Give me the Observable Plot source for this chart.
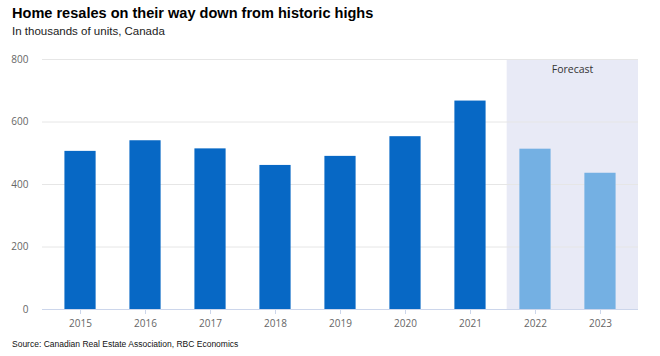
<!DOCTYPE html>
<html>
<head>
<meta charset="utf-8">
<script src="https://cdn.jsdelivr.net/npm/d3@7"></script>
<script src="https://cdn.jsdelivr.net/npm/@observablehq/plot@0.6"></script>
<style>
  html, body { margin: 0; padding: 0; background: #fff; }
  #wrap { width: 660px; height: 356px; position: relative; overflow: hidden; }
  #title { position: absolute; left: 12px; top: 5px; font: bold 14.55px "Liberation Sans", Arial, sans-serif; color: #000; white-space: nowrap; }
  #subtitle { position: absolute; left: 12px; top: 25px; font: 11.5px "Liberation Sans", Arial, sans-serif; color: #222; white-space: nowrap; }
  #chart { position: absolute; left: 0; top: 44px; }
  #source { position: absolute; left: 12px; top: 339px; font: 8.5px "Liberation Sans", Arial, sans-serif; color: #111; white-space: nowrap; }
  #chart svg text { font-family: "Open Sans", "DejaVu Sans", sans-serif; }
</style>
</head>
<body>
<div id="wrap">
  <div id="title">Home resales on their way down from historic highs</div>
  <div id="subtitle">In thousands of units, Canada</div>
  <div id="chart"></div>
  <div id="source">Source: Canadian Real Estate Association, RBC Economics</div>
</div>
<script>
const years = ["2015","2016","2017","2018","2019","2020","2021","2022","2023"];
const resales = [506, 540, 514, 461, 490, 553, 667, 513, 436];
const isForecast = [false, false, false, false, false, false, false, true, true];
const yTicks = [0, 200, 400, 600, 800];
const forecastLabel = "Forecast";

const data = years.map((y, i) => ({year: y, value: resales[i], forecast: isForecast[i]}));
const fcYears = years.filter((y, i) => isForecast[i]);

const plot = Plot.plot({
  width: 660,
  height: 290,
  marginTop: 15,
  marginBottom: 25,
  marginLeft: 42,
  marginRight: 22,
  x: { type: "band", domain: years, paddingInner: 0.52, paddingOuter: 0.345, round: false, label: null },
  y: { domain: [0, 800], label: null },
  marks: [
    // forecast shading
    Plot.barY([{year: fcYears[0]}], {x: "year", y1: 0, y2: 800, fill: "#e8eaf6", insetLeft: -12.7, insetRight: -17.5}),
    Plot.barY([{year: fcYears[fcYears.length - 1]}], {x: "year", y1: 0, y2: 800, fill: "#e8eaf6", insetLeft: -17.5, insetRight: -22.4}),
    Plot.gridY(yTicks, {stroke: "#e6e6e6", strokeOpacity: 1, strokeWidth: 1}),
    Plot.barY(data, {x: "year", y: "value", fill: d => d.forecast ? "#74b0e3" : "#0768c5"}),
    Plot.ruleY([0], {stroke: "#ccd6eb", strokeWidth: 1}),
    Plot.axisY(yTicks, {tickSize: 0, tickPadding: 14, fontSize: 10, fill: "#666", label: null}),
    Plot.axisX({tickSize: 5, stroke: "#ccd6eb", tickPadding: 5, fontSize: 10, fill: "#666", label: null}),
    Plot.text([forecastLabel], {x: () => fcYears[0], y: () => 800, text: d => d, dx: 37, dy: 10, fontSize: 10.5, fill: "#333"})
  ]
});
document.getElementById("chart").appendChild(plot);
</script>
</body>
</html>
